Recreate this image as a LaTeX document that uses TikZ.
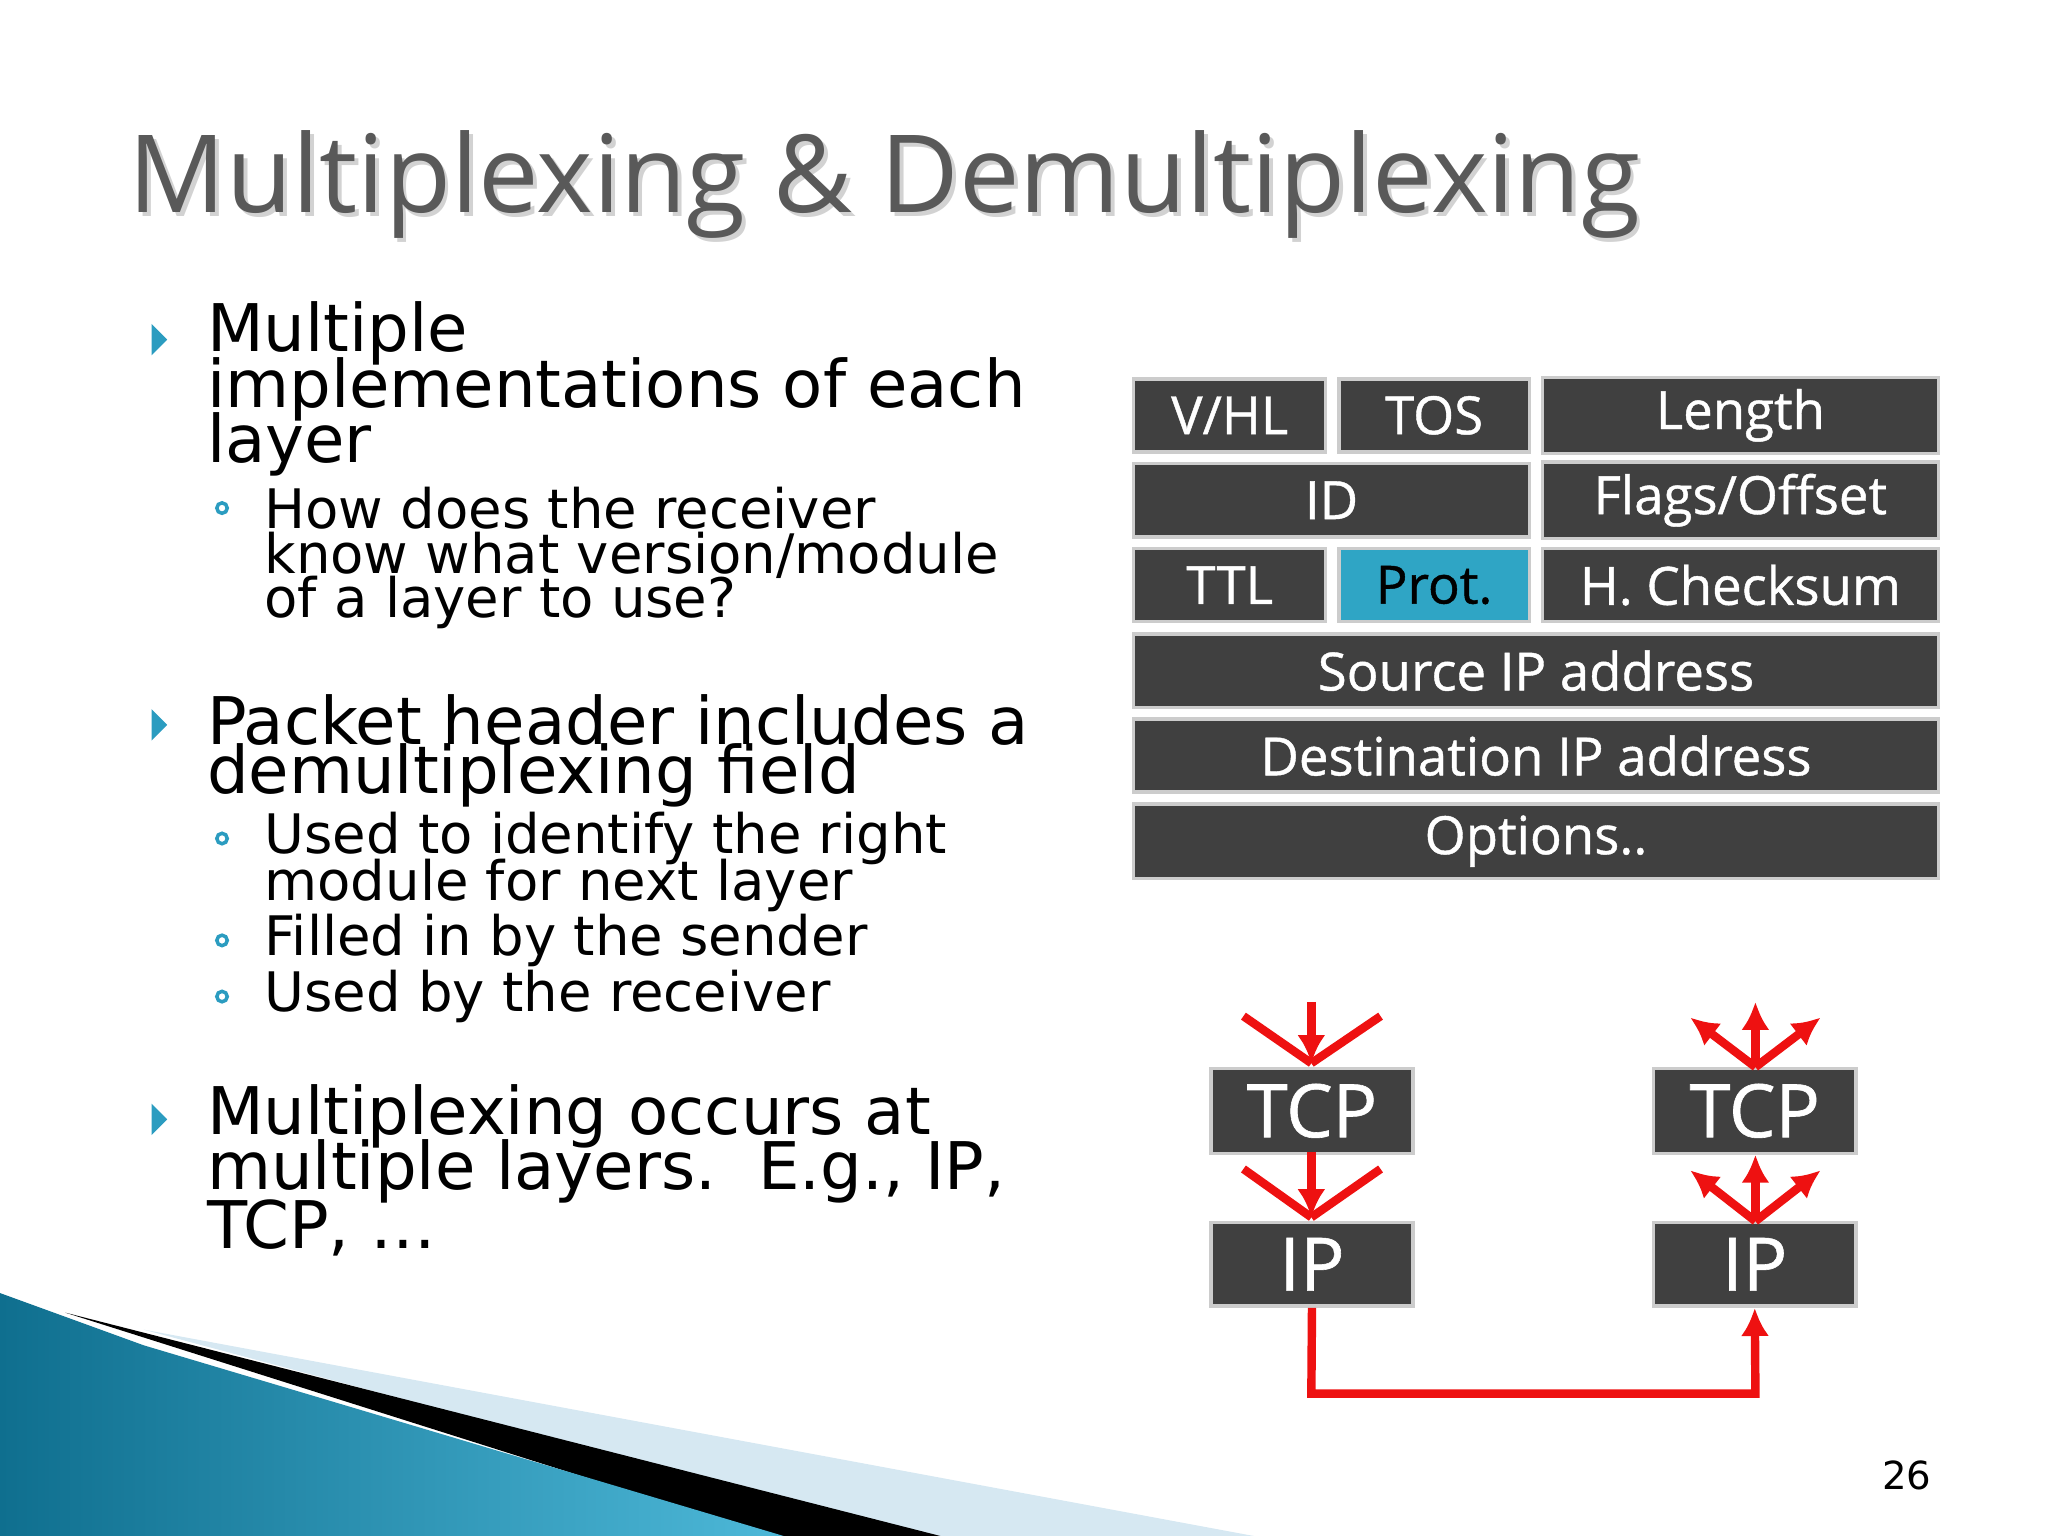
\documentclass[tikz,border=0pt]{standalone}
\usepackage{fontspec}
\usetikzlibrary{arrows.meta}
\setmainfont{DejaVu Sans}
\newfontfamily\tabfont{Open Sans}
\newfontfamily\tabfontb[FakeBold=0.8]{Open Sans}
\definecolor{cell}{HTML}{404040}
\definecolor{cyanc}{HTML}{2FA5C5}
\definecolor{redc}{HTML}{EE1111}
\definecolor{bullc}{HTML}{2B9CC0}
\definecolor{decoA}{HTML}{0F6F8F}
\definecolor{decoB}{HTML}{4DB8D8}
\definecolor{decoL}{HTML}{D6E8F2}
\begin{document}
\begin{tikzpicture}[x=0.013061cm,y=-0.013061cm,
  cellbox/.style={fill=cell,draw=gray!40,line width=1pt,text=white,font=\tabfontb\fontsize{15}{15}\selectfont},
  layerbox/.style={fill=cell,draw=gray!40,line width=1pt,text=white,font=\tabfontb\fontsize{21}{21}\selectfont},
  big/.style={anchor=west,inner sep=0pt,font=\fontsize{18.7}{20}\selectfont},
  small/.style={anchor=west,inner sep=0pt,font=\fontsize{15.5}{15}\selectfont},
  arr/.style={draw=redc,line width=2.4pt,-{Latex[length=8pt,width=8pt]}},
  ln/.style={draw=redc,line width=2.4pt}]
\useasboundingbox (0,0) rectangle (1568,1176);
% decoration
\fill[decoL] (110,1018) -- (960,1176) -- (700,1176) -- cycle;
\fill[black] (50,1005) -- (720,1176) -- (590,1176) -- cycle;
\shade[left color=decoA,right color=decoB] (0,990) -- (110,1030) -- (600,1176) -- (0,1176) -- cycle;
% title
\node (titleS) [anchor=west,inner sep=0pt,text=gray!35] at (101,144) {\resizebox{15.11cm}{!}{\tabfont Multiplexing \& Demultiplexing}};
\node (title) [anchor=west,inner sep=0pt,text=gray!70!black] at (98,141) {\resizebox{15.11cm}{!}{\tabfont Multiplexing \& Demultiplexing}};
% bullets
\foreach \yy/\nn in {260/b1,555/b2,857/b3}{
  \fill[bullc] (116,\yy-12) -- (128,\yy) -- (116,\yy+12) -- cycle;}
\node (l1) [big] at (158,255) {Multiple};
\node (l2) [big] at (158,298) {implementations of each};
\node (l3) [big] at (158,340) {layer};
\node (s1) [small] at (202,389) {How does the receiver};
\node (s2) [small] at (202,425) {know what version/module};
\node (s3) [small] at (202,461) {of a layer to use?};
\node (l4) [big] at (158,551) {Packet header includes a};
\node (l5) [big] at (158,594) {demultiplexing field};
\node (s4) [small] at (202,642) {Used to identify the right};
\node (s5) [small] at (202,678) {module for next layer};
\node (s6) [small] at (202,720) {Filled in by the sender};
\node (s7) [small] at (202,763) {Used by the receiver};
\node (l6) [big] at (158,855) {Multiplexing occurs at};
\node (l7) [big] at (158,897) {multiple layers.\ \ E.g., IP,};
\node (l8) [big] at (158,940) {TCP, \dots};
\foreach \yy in {389,642,720,763}{\draw[bullc,line width=1pt] (170,\yy) circle (4);}
% table
\newcommand{\cellat}[6]{\node (#1) [cellbox,#6,minimum width=#4*0.013061cm,minimum height=56*0.013061cm] at (#2,#3) {#5};}
\cellat{vhl}{941.5}{318}{147}{V/HL}{}
\cellat{tos}{1098}{318}{146}{TOS}{}
\cellat{len}{1332.5}{318}{303}{Length}{}
\cellat{id}{1019.5}{383}{303}{ID}{}
\cellat{flg}{1332.5}{383}{303}{Flags/Offset}{}
\cellat{ttl}{941.5}{448}{147}{TTL}{}
\cellat{prot}{1098}{448}{146}{Prot.}{fill=cyanc,text=black}
\cellat{chk}{1332.5}{448}{303}{H. Checksum}{}
\cellat{src}{1176}{513.5}{616}{Source IP address}{}
\cellat{dst}{1176}{578.5}{616}{Destination IP address}{}
\cellat{opt}{1176}{644}{616}{Options..}{}
% layers
\node (tcpL) [layerbox,minimum width=155*0.013061cm,minimum height=65*0.013061cm] at (1004.5,850.5) {TCP};
\node (ipL) [layerbox,minimum width=155*0.013061cm,minimum height=64*0.013061cm] at (1004.5,968) {IP};
\node (tcpR) [layerbox,minimum width=155*0.013061cm,minimum height=65*0.013061cm] at (1343.5,850.5) {TCP};
\node (ipR) [layerbox,minimum width=155*0.013061cm,minimum height=64*0.013061cm] at (1343.5,968) {IP};
% left arrows (mux)
\coordinate (m1) at (1004,814);
\draw[arr] (1004,767) -- (m1);
\draw[ln] (952,778) -- (m1); \draw[ln] (1057,778) -- (m1);
\coordinate (m2) at (1004,932);
\draw[arr] (1004,882) -- (m2);
\draw[ln] (952,895) -- (m2); \draw[ln] (1057,895) -- (m2);
% right arrows (demux)
\foreach \a/\b in {817/767,935/884}{
  \draw[arr] (1344,\a) -- (1344,\b);
  \draw[arr] (1344,\a) -- (1294,\b+12);
  \draw[arr] (1344,\a) -- (1394,\b+12);}
% connection
\draw[arr] (ipL.south) -- (1004,1067) -- (1344,1067) -- (ipR.south);
\node (pg) [font=\fontsize{11}{11}\selectfont] at (1460,1130) {26};
\end{tikzpicture}
\end{document}
